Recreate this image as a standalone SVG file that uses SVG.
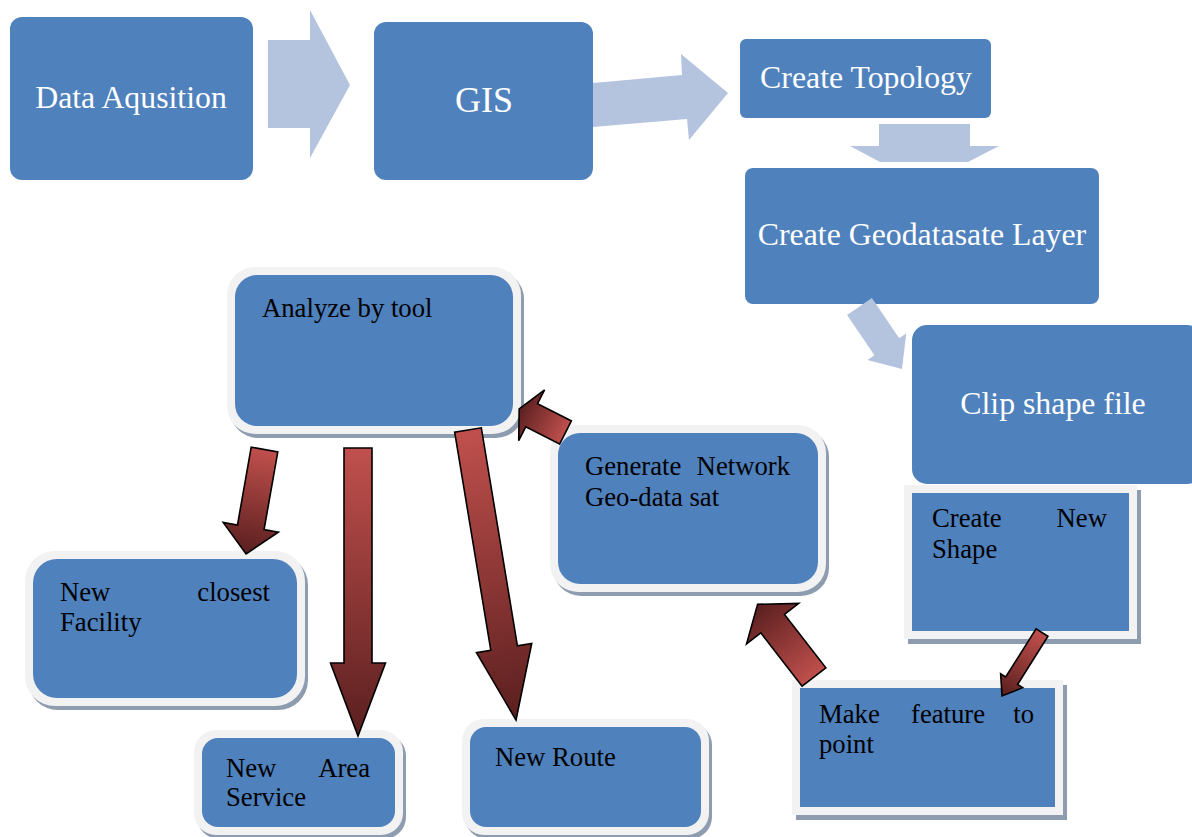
<svg xmlns="http://www.w3.org/2000/svg" width="1192" height="837" viewBox="0 0 1192 837">
<defs>
<linearGradient id="rg" x1="0" y1="0" x2="1" y2="0">
<stop offset="0" stop-color="#c0504d"/>
<stop offset="1" stop-color="#5a1f1f"/>
</linearGradient>
</defs>
<style>
.top{fill:#4f81bd}
.tt{font-family:"Liberation Serif","Times New Roman",serif;fill:#ffffff;text-anchor:middle}
.bt{font-family:"Liberation Serif","Times New Roman",serif;fill:#000000;font-size:26.7px}
.sh{fill:#8e9cb0}
.bd{fill:#f2f2f2}
.in{fill:#4f81bd}
.la{fill:#b4c4df}
.ra{fill:url(#rg);stroke:#000000;stroke-width:1.6;stroke-linejoin:miter}
</style>
<rect width="1192" height="837" fill="#ffffff"/>
<g id="n-data">
<rect class="top" x="10" y="17" width="243" height="163" rx="12"/>
<text class="tt" x="131" y="108" font-size="31.8">Data Aqusition</text>
</g>
<g id="n-gis">
<rect class="top" x="374" y="22" width="219" height="158" rx="12"/>
<text class="tt" x="484" y="112" font-size="36">GIS</text>
</g>
<g id="n-topology">
<rect class="top" x="740" y="39" width="251" height="79" rx="6"/>
<text class="tt" x="866" y="88" font-size="31.8">Create Topology</text>
</g>
<g id="n-geodb">
<rect class="top" x="745" y="168" width="354" height="136" rx="8"/>
<text class="tt" x="922" y="245" font-size="31.8">Create Geodatasate Layer</text>
</g>
<g id="n-clip">
<rect class="top" x="912" y="325" width="290" height="159" rx="15"/>
<text class="tt" x="1053" y="414" font-size="31.8">Clip shape file</text>
</g>
<g id="n-analyze">
<rect class="sh" x="230" y="271" width="294" height="167" rx="28"/>
<rect class="bd" x="227" y="267" width="294" height="167" rx="28"/>
<rect class="in" x="235" y="275" width="278" height="151" rx="22"/>
<text class="bt" x="262" y="317">Analyze by tool</text>
</g>
<g id="n-generate">
<rect class="sh" x="553" y="429" width="276" height="167" rx="28"/>
<rect class="bd" x="550" y="425" width="276" height="167" rx="28"/>
<rect class="in" x="558" y="433" width="260" height="151" rx="22"/>
<text class="bt" x="585" y="475">Generate</text>
<text class="bt" x="790" y="475" text-anchor="end">Network</text>
<text class="bt" x="585" y="506">Geo-data sat</text>
</g>
<g id="n-newshape">
<rect class="sh" x="908" y="490" width="233" height="154"/>
<rect class="bd" x="904" y="485" width="233" height="154"/>
<rect class="in" x="912" y="493" width="217" height="138"/>
<text class="bt" x="932" y="527">Create</text>
<text class="bt" x="1107" y="527" text-anchor="end">New</text>
<text class="bt" x="932" y="558">Shape</text>
</g>
<g id="n-makefeature">
<rect class="sh" x="796" y="685" width="271" height="135"/>
<rect class="bd" x="792" y="680" width="271" height="135"/>
<rect class="in" x="800" y="688" width="255" height="119"/>
<text class="bt" x="819" y="723">Make</text>
<text class="bt" x="911" y="723">feature</text>
<text class="bt" x="1034" y="723" text-anchor="end">to</text>
<text class="bt" x="819" y="753">point</text>
</g>
<g id="n-closest">
<rect class="sh" x="28" y="555" width="280" height="155" rx="30"/>
<rect class="bd" x="25" y="551" width="280" height="155" rx="30"/>
<rect class="in" x="33" y="559" width="264" height="139" rx="24"/>
<text class="bt" x="60" y="601">New</text>
<text class="bt" x="270" y="601" text-anchor="end">closest</text>
<text class="bt" x="60" y="631">Facility</text>
</g>
<g id="n-area">
<rect class="sh" x="197" y="734" width="209" height="105" rx="22"/>
<rect class="bd" x="194" y="730" width="209" height="105" rx="22"/>
<rect class="in" x="202" y="738" width="193" height="89" rx="16"/>
<text class="bt" x="226" y="777">New</text>
<text class="bt" x="370" y="777" text-anchor="end">Area</text>
<text class="bt" x="226" y="806">Service</text>
</g>
<g id="n-route">
<rect class="sh" x="465" y="723" width="247" height="116" rx="22"/>
<rect class="bd" x="462" y="719" width="247" height="116" rx="22"/>
<rect class="in" x="470" y="727" width="231" height="100" rx="16"/>
<text class="bt" x="495" y="766">New Route</text>
</g>
<g id="connectors">
<polygon class="la" points="268,40 310,40 310,10 350,85 310,158 310,128 268,128"/>
<polygon class="la" points="593,83 682,75 681,54 728,93 689,140 687,119 593,127"/>
<polygon class="la" points="879,124 970,124 970,146 999,146 968,162 880,162 850,146 879,146"/>
<polygon class="la" transform="translate(859.5,306.5) rotate(55.8)" points="0,-15 48.6,-15 48.6,-23.5 75.6,0 48.6,23.5 48.6,15 0,15"/>
<polygon class="ra" transform="translate(264.5,449.5) rotate(100)" points="0,-13.5 79,-13.5 79,-28 106,0 79,28 79,13.5 0,13.5"/>
<polygon class="ra" transform="translate(358,448) rotate(90)" points="0,-14 215,-14 215,-27.5 288,0 215,27.5 215,14 0,14"/>
<polygon class="ra" transform="translate(468,430) rotate(80.6)" points="0,-13.5 221,-13.5 221,-28 294,0 221,28 221,13.5 0,13.5"/>
<polygon class="ra" transform="translate(565.5,432.5) rotate(207)" points="0,-13 38,-13 38,-28.5 52,0 38,28.5 38,13 0,13"/>
<polygon class="ra" transform="translate(814,677) rotate(232.2)" points="0,-15 67.5,-15 67.5,-33 92,0 67.5,33 67.5,15 0,15"/>
<polygon class="ra" transform="translate(1042,632.5) rotate(122.2)" points="0,-7 57,-7 57,-13 75,0 57,13 57,7 0,7"/>
</g>
</svg>
